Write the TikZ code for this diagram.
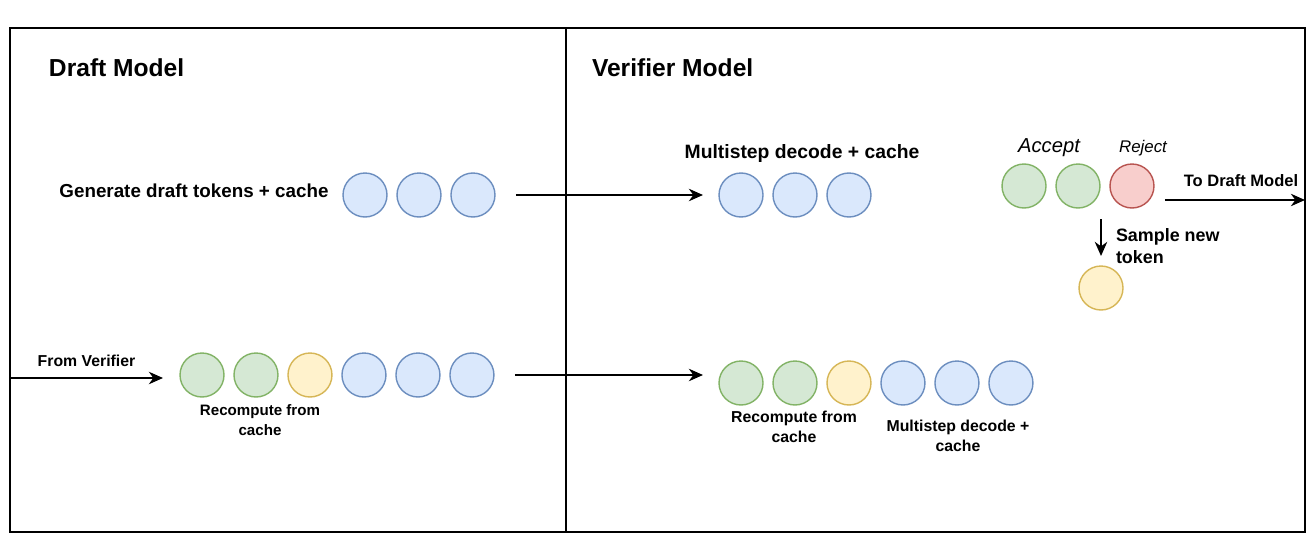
\documentclass[tikz,border=0pt]{standalone}
\usepackage{fontspec}
\setmainfont{Liberation Sans}
\usetikzlibrary{arrows.meta, positioning}

\definecolor{blueFill}{HTML}{DAE8FC}
\definecolor{blueLine}{HTML}{6C8EBF}
\definecolor{greenFill}{HTML}{D5E8D4}
\definecolor{greenLine}{HTML}{82B366}
\definecolor{yellowFill}{HTML}{FFF2CC}
\definecolor{yellowLine}{HTML}{D6B656}
\definecolor{redFill}{HTML}{F8CECC}
\definecolor{redLine}{HTML}{B85450}

\begin{document}
\begin{tikzpicture}[x=0.02cm,y=-0.02cm,line width=1.3pt,node distance=0.2cm,>={Stealth[length=8pt,width=7pt,inset=2.5pt]}]
		\tikzstyle{token}=[circle,minimum size=0.88cm,inner sep=0pt,outer sep=0pt,line width=0.8pt]
		\tikzstyle{blue token}=[token,draw=blueLine,fill=blueFill]
		\tikzstyle{green token}=[token,draw=greenLine,fill=greenFill]
		\tikzstyle{yellow token}=[token,draw=yellowLine,fill=yellowFill]
		\tikzstyle{red token}=[token,draw=redLine,fill=redFill]
		\tikzstyle{title}=[font=\fontsize{14}{17}\selectfont\bfseries,anchor=west]
		\tikzstyle{caption}=[font=\fontsize{9}{11}\selectfont\bfseries,align=center]
		
		\useasboundingbox (0,0) rectangle (1314,544);
		\draw (10,28) rectangle (1305,532);
		\draw (566,28) -- (566,532);
		
		\node[title] (draft) at (42,68) {Draft Model};
		\node[title] (verifier) at (585,68) {Verifier Model};
		
		% draft model, first pass
		\node[blue token] (t1) at (365,195) {};
		\node[blue token] (t2) [right=of t1] {};
		\node[blue token] (t3) [right=of t2] {};
		\node[font=\fontsize{10.7}{13}\selectfont\bfseries] (gen) [left=0.15cm of t1, yshift=2.5pt] {Generate draft tokens + cache};
		
		% verifier model, first pass
		\node[blue token] (v1) at (741,195) {};
		\node[blue token] (v2) [right=of v1] {};
		\node[blue token] (v3) [right=of v2] {};
		\node[font=\fontsize{11}{13}\selectfont\bfseries] (multi) at (802,154) {Multistep decode + cache};
		
		\node[green token] (a1) at (1024,186) {};
		\node[green token] (a2) [right=of a1] {};
		\node[red token] (r1) [right=of a2] {};
		\node[yellow token] (n1) at (1101,288) {};
		\node[font=\fontsize{11.5}{14}\selectfont\itshape] (accept) at (1049,148) {Accept};
		\node[font=\fontsize{9.6}{12}\selectfont\itshape] (reject) at (1143,148) {Reject};
		\node[font=\fontsize{10.2}{12.5}\selectfont\bfseries,align=left,anchor=west] (sample) at (1109,246) {Sample new\\token};
		
		% draft model, second pass
		\node[green token] (b1) at (202,375) {};
		\node[green token] (b2) [right=of b1] {};
		\node[yellow token] (b3) [right=of b2] {};
		\node[blue token] (b4) [right=of b3] {};
		\node[blue token] (b5) [right=of b4] {};
		\node[blue token] (b6) [right=of b5] {};
		\node[caption,font=\fontsize{8.6}{11}\selectfont\bfseries] (recompute) at (260,420) {Recompute from\\cache};
		
		% verifier model, second pass
		\node[green token] (w1) at (741,383) {};
		\node[green token] (w2) [right=of w1] {};
		\node[yellow token] (w3) [right=of w2] {};
		\node[blue token] (w4) [right=of w3] {};
		\node[blue token] (w5) [right=of w4] {};
		\node[blue token] (w6) [right=of w5] {};
		\node[caption] (recompute2) at (794,427) {Recompute from\\cache};
		\node[caption] (multi2) at (958,436) {Multistep decode +\\cache};
		
		\coordinate (fromV) at (10,378);
		\coordinate (toD) at (1305,200);
		\coordinate (down) at (1101,219);
		
		\draw[->,shorten <=0.42cm,shorten >=0.32cm] (t3.east) -- (v1.west);
		\draw[->,shorten <=0.42cm,shorten >=0.32cm] (b6.east) -- (b6.east -| w1.west);
		\draw[->,shorten >=0.34cm] (fromV) -- node[caption,above=2.5pt,pos=0.45] (fromlabel) {From Verifier} (fromV -| b1.west);
		\draw[->,shorten <=0.22cm] (r1.east |- toD) -- node[caption,font=\fontsize{9.4}{11}\selectfont\bfseries,above=3.5pt,pos=0.576] (tolabel) {To Draft Model} (toD);
		\draw[->,shorten >=0.2cm] (down) -- (n1);


\end{tikzpicture}
\end{document}
